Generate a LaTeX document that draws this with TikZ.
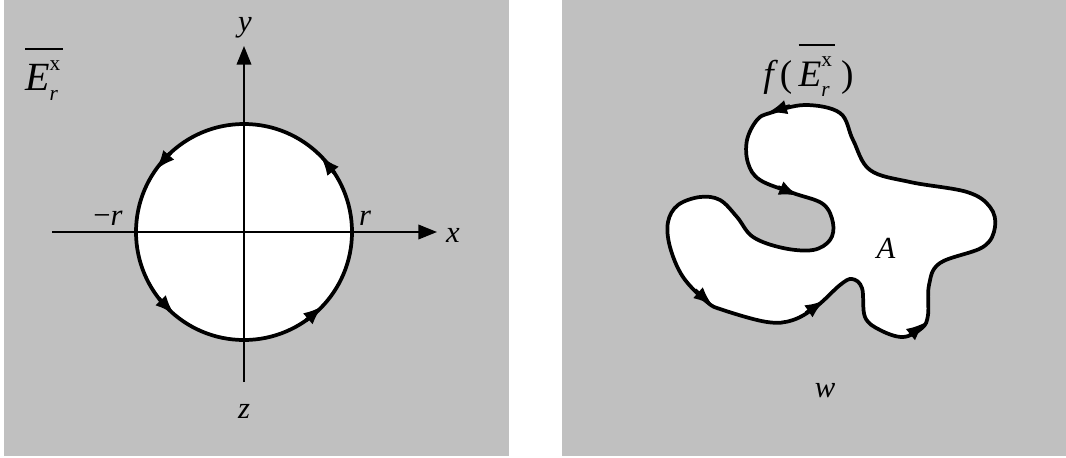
\documentclass[tikz,border=0pt]{standalone}
\usepackage{fontspec}
\setmainfont{Liberation Serif}
\newfontfamily\timesit{Liberation Serif}[UprightFont=*-Italic]
\usepackage{tikz}
\usetikzlibrary{arrows.meta,calc,positioning}
\definecolor{panelgray}{RGB}{192,192,192}
\newcommand\Ebar{\vbox{\hrule height 1.1pt\kern 8pt\hbox{\timesit E\rlap{\raisebox{15pt}{\fontsize{16}{16}\selectfont\rmfamily x}}\raisebox{-8pt}{\fontsize{16}{16}\selectfont r}\kern 4pt}}}

\begin{document}
\begin{tikzpicture}[x=0.75pt,y=-0.75pt,
  lbl/.style={font=\fontsize{23}{27}\selectfont\timesit,inner sep=0pt},
  axis/.style={line width=1.2pt,-{Triangle[length=14pt,width=11pt]}},
  curve/.style={line width=2.8pt,fill=white},
  tip/.style={line width=2.8pt,-{Latex[length=15pt,width=11pt]}}]
\useasboundingbox (0,0) rectangle (1066,457);
\fill[panelgray] (4,0) rectangle (509,456);
\fill[panelgray] (562,0) rectangle (1066,456);
% left panel
\coordinate (o) at (244,232);
\draw[curve] (o) circle (108);
\draw[axis] (52,232) -- (437,232);
\draw[axis] (244,382) -- (244,46);
\foreach \a in {45,145,230,317}{\draw[tip] ($(o)+(-\a+12:108)$) -- ($(o)+(-\a:108)$);}
\node[lbl] (ylab) at (245,28) {y};
\node[lbl] (xlab) at (453,235) {x};
\node[lbl] (zlab) at (244,411) {z};
\node[lbl,anchor=base] (mr) at (108,225) {{\rmfamily −}r};
\node[lbl,anchor=base] (pr) at (365,225) {r};
\node[anchor=base west,inner sep=0pt,font=\fontsize{30}{34}\selectfont] (ebar) at (25,90) {\Ebar};
% right panel
\draw[curve] plot[smooth cycle,tension=0.6] coordinates {(805,105) (770,113) (757,120) (747,140) (748,163) (760,180) (793,193) (823,204) (833,223) (830,240) (813,250) (783,248) (753,237) (737,217) (720,200) (700,197) (678,205) (668,222) (670,247) (683,277) (707,302) (723,310) (767,322) (793,320) (817,306) (840,285) (852,279) (862,288) (865,317) (880,330) (903,337) (922,328) (928,315) (929,285) (940,263) (983,247) (995,227) (990,207) (967,192) (910,182) (870,170) (853,140) (840,113)};
\draw[tip] (790,106) -- (767,113);
\draw[tip] (778,187) -- (799,196);
\draw[tip] (695,290) -- (713,306);
\draw[tip] (806,313) -- (825,300);
\draw[tip] (910,335) -- (926,322);
\node[anchor=base west,inner sep=0pt,font=\fontsize{28}{32}\selectfont] (fe) at (763,86) {{\timesit f}\,(\,\Ebar\,)};
\node[lbl] (alab) at (886,248) {A};
\node[lbl] (wlab) at (825,391) {w};
\end{tikzpicture}
\end{document}
